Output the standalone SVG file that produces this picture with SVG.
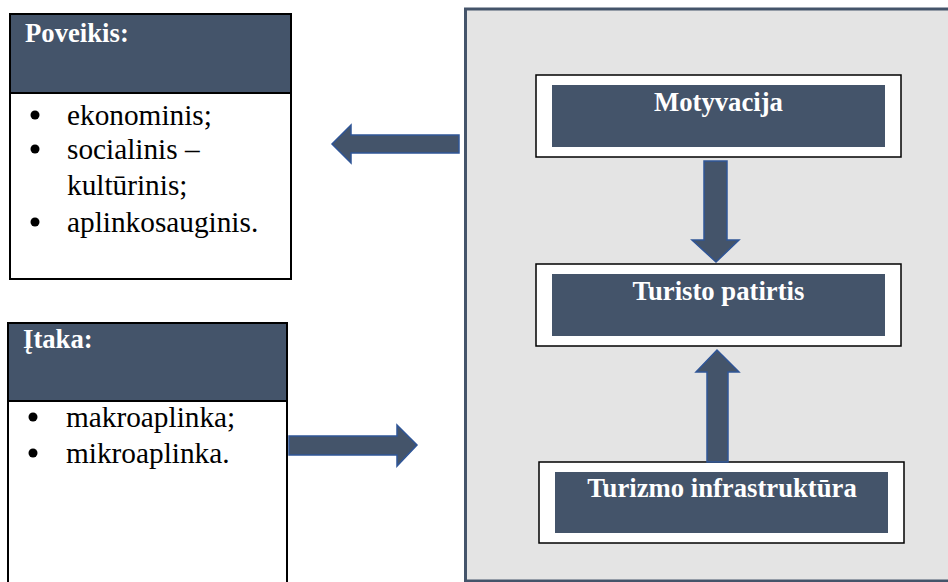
<svg xmlns="http://www.w3.org/2000/svg" width="948" height="582" viewBox="0 0 948 582">
<style>
.box{fill:#fff;stroke:#000;stroke-width:2}
.hdr{fill:#44546a}
.hline{stroke:#000;stroke-width:2}
.htxt{font-family:"Liberation Serif","Times New Roman",serif;font-weight:bold;font-size:26.7px;fill:#fff}
.btxt{font-family:"Liberation Serif","Times New Roman",serif;font-size:29.3px;fill:#000}
.bul{fill:#000}
.inbox{fill:#fff;stroke:#000;stroke-width:1.5}
.arrow{fill:#44546a;stroke:#2f5597;stroke-width:1.5;stroke-linejoin:miter}
.ctxt{text-anchor:middle}
</style>
<rect width="948" height="582" fill="#fff"/>
<g id="container">
<rect x="465.5" y="9" width="500" height="572" fill="#e4e4e4" stroke="#44546a" stroke-width="3"/>
</g>
<g id="poveikis">
<rect class="box" x="10" y="14" width="281" height="265"/>
<rect class="hdr" x="11" y="15" width="279" height="78"/>
<line class="hline" x1="10" y1="93" x2="291" y2="93"/>
<text class="htxt" x="25" y="42">Poveikis:</text>
<circle class="bul" cx="35" cy="115" r="4.5"/>
<text class="btxt" x="67" y="125">ekonominis;</text>
<circle class="bul" cx="35" cy="149" r="4.5"/>
<text class="btxt" x="67" y="159">socialinis –</text>
<text class="btxt" x="67" y="195">kultūrinis;</text>
<circle class="bul" cx="35" cy="222" r="4.5"/>
<text class="btxt" x="67" y="232">aplinkosauginis.</text>
</g>
<g id="itaka">
<rect class="box" x="8" y="323" width="279" height="270"/>
<rect class="hdr" x="9" y="324" width="277" height="77"/>
<line class="hline" x1="8" y1="401" x2="287" y2="401"/>
<text class="htxt" x="23" y="348">Įtaka:</text>
<circle class="bul" cx="33" cy="417" r="4.5"/>
<text class="btxt" x="66" y="427">makroaplinka;</text>
<circle class="bul" cx="33" cy="453" r="4.5"/>
<text class="btxt" x="66" y="463">mikroaplinka.</text>
</g>
<g id="motyvacija">
<rect class="inbox" x="536" y="75" width="365" height="82"/>
<rect class="hdr" x="552" y="85" width="333" height="62"/>
<text class="htxt ctxt" x="718.5" y="111">Motyvacija</text>
</g>
<g id="turisto-patirtis">
<rect class="inbox" x="536" y="264" width="365" height="82"/>
<rect class="hdr" x="552" y="274" width="333" height="62"/>
<text class="htxt ctxt" x="718.5" y="300">Turisto patirtis</text>
</g>
<g id="turizmo-infrastruktura">
<rect class="inbox" x="539" y="462" width="365" height="81"/>
<rect class="hdr" x="555" y="472" width="333" height="61"/>
<text class="htxt ctxt" x="722" y="497">Turizmo infrastruktūra</text>
</g>
<g id="connectors">
<polygon class="arrow" points="459,135 351,135 351,125 332,144 351,163 351,153 459,153"/>
<polygon class="arrow" points="289,436 397,436 397,425 417,445 397,466 397,455 289,455"/>
<polygon class="arrow" points="704,161 727,161 727,240 739,240 716,262 692,240 704,240"/>
<polygon class="arrow" points="707,462 728,462 728,372 739,372 717,350 696,372 707,372"/>
</g>
</svg>
